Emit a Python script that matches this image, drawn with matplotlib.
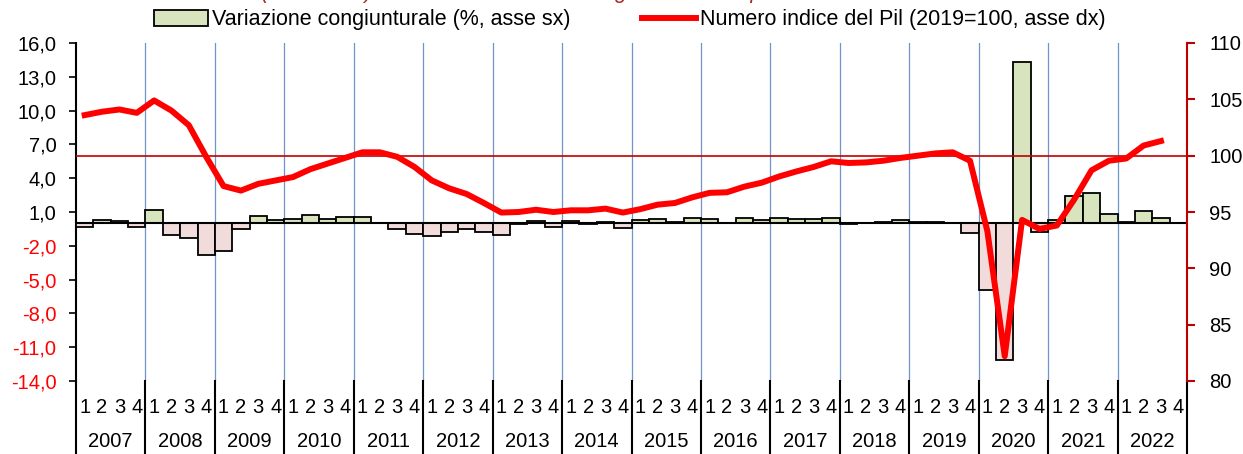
import matplotlib.pyplot as plt
import matplotlib.transforms as mtransforms
from matplotlib.patches import Patch
from matplotlib.lines import Line2D
import numpy as np

plt.rcParams['font.family'] = ['Liberation Sans', 'DejaVu Sans']

# Data: Italian GDP, 2007Q1 - 2022Q3
years = [str(y) for y in range(2007, 2023)]
quarters = ['1', '2', '3', '4']

# quarterly change (%, left axis)
var_cong = [-0.3, 0.3, 0.2, -0.35,
            1.15, -1.0, -1.3, -2.8,
            -2.5, -0.5, 0.65, 0.33,
            0.35, 0.7, 0.4, 0.55,
            0.55, 0.05, -0.55, -0.95,
            -1.15, -0.75, -0.5, -0.8,
            -1.0, -0.05, 0.2, -0.3,
            0.2, -0.1, 0.1, -0.4,
            0.3, 0.35, 0.1, 0.5,
            0.35, 0.05, 0.5, 0.25,
            0.5, 0.4, 0.4, 0.45,
            -0.1, 0.05, 0.1, 0.25,
            0.15, 0.15, 0.05, -0.85,
            -5.9, -12.1, 14.35, -0.8,
            0.25, 2.45, 2.7, 0.8,
            0.1, 1.05, 0.45]

# GDP index (2019=100, right axis)
indice_pil = [103.6, 103.9, 104.1, 103.8,
              104.9, 104.0, 102.7, 99.9,
              97.3, 96.9, 97.5, 97.8,
              98.1, 98.8, 99.3, 99.8,
              100.3, 100.3, 99.9, 99.0,
              97.8, 97.1, 96.6, 95.8,
              94.95, 95.0, 95.2, 95.0,
              95.15, 95.15, 95.3, 94.95,
              95.25, 95.65, 95.8, 96.3,
              96.7, 96.75, 97.25, 97.6,
              98.15, 98.6, 99.0, 99.5,
              99.35, 99.4, 99.55, 99.8,
              100.0, 100.2, 100.3, 99.55,
              93.3, 82.2, 94.3, 93.5,
              93.8, 96.1, 98.7, 99.55,
              99.75, 100.9, 101.3]

n_q = len(years) * 4
x = np.arange(len(var_cong))

green = '#D7E4BD'
pink = '#F2DCDB'
red = '#FF0000'
dark_red = '#C00000'
grid_blue = '#6F95C8'
fs = 14.5

fig = plt.figure(figsize=(12.43, 4.54), dpi=100)
ax = fig.add_axes([76/1243, 1 - 381/454, (1187 - 76)/1243, (381 - 43)/454])
ax2 = ax.twinx()

# bars
colors = [green if v >= 0 else pink for v in var_cong]
ax.bar(x, var_cong, width=1.0, color=colors, edgecolor='black', linewidth=1.3, zorder=3)
ax.axhline(0, color='black', lw=1.5, zorder=4)

# year gridlines
for k in range(1, len(years)):
    ax.axvline(4*k - 0.5, color=grid_blue, lw=0.9, zorder=1)

ax.set_xlim(-0.5, n_q - 0.5)
ax.set_ylim(-14, 16)
ax.set_yticks(np.arange(-14, 17, 3))
ax.set_yticklabels([('%.1f' % t).replace('.', ',') for t in np.arange(-14, 17, 3)], fontsize=fs)
for t, lab in zip(np.arange(-14, 17, 3), ax.get_yticklabels()):
    lab.set_color('black' if t > 0 else red)
ax.set_xticks([])
ax.tick_params(axis='y', direction='out', length=5, width=1.2, pad=9)

for s in ['top', 'bottom', 'right']:
    ax.spines[s].set_visible(False)
ax.spines['left'].set_linewidth(1.5)

# index line
ax2.plot(x, indice_pil, color=red, lw=4.3, solid_joinstyle='round', zorder=5)
ax2.axhline(100, color=dark_red, lw=1.2, zorder=2)
ax2.set_ylim(80, 110)
ax2.set_yticks(np.arange(80, 111, 5))
ax2.tick_params(axis='y', direction='out', length=6, width=1.5, colors=dark_red,
                labelcolor='black', labelsize=fs, pad=10)
for s in ['top', 'bottom', 'left']:
    ax2.spines[s].set_visible(False)
ax2.spines['right'].set_color(dark_red)
ax2.spines['right'].set_linewidth(1.5)

# category axis (quarters + years)
trans = mtransforms.blended_transform_factory(ax.transData, ax.transAxes)
for i in range(n_q):
    ax.text(i, -0.077, quarters[i % 4], transform=trans, ha='center', va='center',
            fontsize=fs, clip_on=False)
for k, yr in enumerate(years):
    ax.text(4*k + 1.5, -0.178, yr, transform=trans, ha='center', va='center',
            fontsize=fs, clip_on=False)
for k in range(len(years) + 1):
    ax.plot([4*k - 0.5, 4*k - 0.5], [0, -0.22], transform=trans, color='black',
            lw=1.5, clip_on=False)

# legend
handles = [Patch(facecolor=green, edgecolor='black', linewidth=1.3),
           Line2D([0], [0], color=red, lw=4.3)]
labels = ['Variazione congiunturale (%, asse sx)',
          'Numero indice del Pil (2019=100, asse dx)']
fig.legend(handles, labels, loc='center', bbox_to_anchor=(630/1243, 1 - 20/454), ncol=2,
           frameon=False, fontsize=15.5, handlelength=2.5, handletextpad=0.2,
           columnspacing=3.3, borderaxespad=0, borderpad=0)

# title, cut off at the top edge in the original
fig.text(125/1243, 1 + 2/454, 'Pil trimestrale (2019=100) e tasso di variazione congiunturale del prodotto',
         color='#A52A2A', fontsize=15.5, style='italic', va='baseline', ha='left')

fig.savefig('out.png', dpi=100)
